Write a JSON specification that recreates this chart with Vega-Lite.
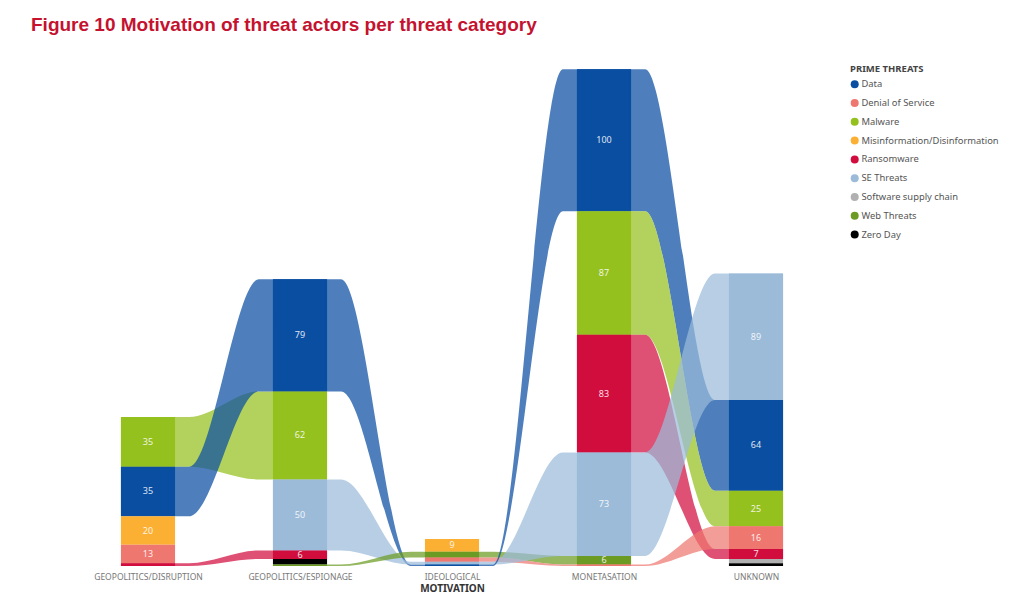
{
  "$schema": "https://vega.github.io/schema/vega-lite/v6.json",
  "width": 760,
  "height": 511,
  "autosize": "none",
  "padding": {"left": 72, "top": 55, "right": 192, "bottom": 34},
  "background": "white",
  "config": {"view": {"stroke": null}, "font": "Noto Sans"},
  "title": {
    "text": "Figure 10 Motivation of threat actors per threat category",
    "anchor": "start",
    "frame": "group",
    "dx": -41,
    "offset": 20,
    "font": "Liberation Sans",
    "fontSize": 19,
    "fontWeight": "bold",
    "color": "#C4122F"
  },
  "data": {
    "values": [
      {"m": "GEOPOLITICS/DISRUPTION", "t": "Malware", "v": 35},
      {"m": "GEOPOLITICS/DISRUPTION", "t": "Data", "v": 35},
      {"m": "GEOPOLITICS/DISRUPTION", "t": "Misinformation/Disinformation", "v": 20},
      {"m": "GEOPOLITICS/DISRUPTION", "t": "Denial of Service", "v": 13},
      {"m": "GEOPOLITICS/DISRUPTION", "t": "Ransomware", "v": 2},
      {"m": "GEOPOLITICS/ESPIONAGE", "t": "Data", "v": 79},
      {"m": "GEOPOLITICS/ESPIONAGE", "t": "Malware", "v": 62},
      {"m": "GEOPOLITICS/ESPIONAGE", "t": "SE Threats", "v": 50},
      {"m": "GEOPOLITICS/ESPIONAGE", "t": "Ransomware", "v": 6},
      {"m": "GEOPOLITICS/ESPIONAGE", "t": "Zero Day", "v": 4},
      {"m": "GEOPOLITICS/ESPIONAGE", "t": "Web Threats", "v": 1},
      {"m": "IDEOLOGICAL", "t": "Misinformation/Disinformation", "v": 9},
      {"m": "IDEOLOGICAL", "t": "Web Threats", "v": 4},
      {"m": "IDEOLOGICAL", "t": "Denial of Service", "v": 3},
      {"m": "IDEOLOGICAL", "t": "SE Threats", "v": 2},
      {"m": "IDEOLOGICAL", "t": "Data", "v": 1},
      {"m": "MONETASATION", "t": "Data", "v": 100},
      {"m": "MONETASATION", "t": "Malware", "v": 87},
      {"m": "MONETASATION", "t": "Ransomware", "v": 83},
      {"m": "MONETASATION", "t": "SE Threats", "v": 73},
      {"m": "MONETASATION", "t": "Web Threats", "v": 6},
      {"m": "MONETASATION", "t": "Denial of Service", "v": 1},
      {"m": "UNKNOWN", "t": "SE Threats", "v": 89},
      {"m": "UNKNOWN", "t": "Data", "v": 64},
      {"m": "UNKNOWN", "t": "Malware", "v": 25},
      {"m": "UNKNOWN", "t": "Denial of Service", "v": 16},
      {"m": "UNKNOWN", "t": "Ransomware", "v": 7},
      {"m": "UNKNOWN", "t": "Software supply chain", "v": 3},
      {"m": "UNKNOWN", "t": "Zero Day", "v": 2}
    ]
  },
  "layer": [
    {
      "transform": [
        {"window": [{"op": "dense_rank", "as": "idx"}], "sort": [{"field": "m", "order": "ascending"}]},
        {"stack": "v", "groupby": ["m"], "sort": [{"field": "v", "order": "ascending"}, {"field": "t", "order": "ascending"}], "as": ["y0", "y1"]},
        {"window": [{"op": "lead", "field": "idx", "as": "nidx"}, {"op": "lead", "field": "y0", "as": "ny0"}, {"op": "lead", "field": "y1", "as": "ny1"}], "groupby": ["t"], "sort": [{"field": "idx", "order": "ascending"}]},
        {"filter": "datum.nidx == datum.idx + 1"},
        {"calculate": "datum.idx - 0.178", "as": "pa"},
        {"calculate": "datum.idx + 0.178", "as": "pb"},
        {"calculate": "datum.idx + 0.27", "as": "pe"},
        {"calculate": "datum.nidx - 0.27", "as": "pf"},
        {"calculate": "datum.nidx - 0.178", "as": "pc"},
        {"calculate": "datum.nidx + 0.178", "as": "pd"},
        {"fold": ["pa", "pb", "pe", "pf", "pc", "pd"], "as": ["k", "px"]},
        {"calculate": "(datum.k == 'pa' || datum.k == 'pb' || datum.k == 'pe') ? datum.y0 : datum.ny0", "as": "lo"},
        {"calculate": "(datum.k == 'pa' || datum.k == 'pb' || datum.k == 'pe') ? datum.y1 : datum.ny1", "as": "hi"},
        {"calculate": "datum.t + '|' + datum.idx", "as": "seg"}
      ],
      "mark": {"type": "area", "interpolate": "monotone", "opacity": 0.72, "orient": "vertical"},
      "encoding": {
        "x": {"field": "px", "type": "quantitative", "scale": {"domain": [0.5, 5.5], "nice": false, "zero": false},
          "axis": {"values": [1, 2, 3, 4, 5], "labelExpr": "['GEOPOLITICS/DISRUPTION','GEOPOLITICS/ESPIONAGE','IDEOLOGICAL','MONETASATION','UNKNOWN'][datum.value-1]", "title": "MOTIVATION", "domain": false, "ticks": false, "grid": false, "labelFontSize": 8.5, "labelColor": "#777777", "labelPadding": 6, "labelFlush": false, "labelOverlap": false, "titleFontSize": 10, "titleFontWeight": "bold", "titleColor": "#333333", "titlePadding": 3}},
        "y": {"field": "lo", "type": "quantitative", "stack": null, "scale": {"domain": [0, 360], "nice": false}, "axis": null},
        "y2": {"field": "hi"},
        "color": {"field": "t", "type": "nominal",
          "scale": {"domain": ["Data", "Denial of Service", "Malware", "Misinformation/Disinformation", "Ransomware", "SE Threats", "Software supply chain", "Web Threats", "Zero Day"],
                    "range": ["#0A4EA2", "#EE7770", "#95C11F", "#FBB034", "#D10D3E", "#9BBBD9", "#B0B0B0", "#6B9B22", "#000000"]},
          "legend": {"title": "PRIME THREATS", "orient": "none", "legendX": 778, "legendY": 9, "symbolType": "circle", "symbolSize": 64, "symbolOpacity": 1, "symbolStrokeWidth": 0, "labelFontSize": 9.4, "labelColor": "#555555", "titleFontSize": 9.5, "titleColor": "#444444", "titleFontWeight": "bold", "rowPadding": 7.8, "labelOffset": 2, "titlePadding": 6}},
        "detail": {"field": "seg"}
      }
    },
    {
      "transform": [
        {"window": [{"op": "dense_rank", "as": "idx"}], "sort": [{"field": "m", "order": "ascending"}]},
        {"stack": "v", "groupby": ["m"], "sort": [{"field": "v", "order": "ascending"}, {"field": "t", "order": "ascending"}], "as": ["y0", "y1"]},
        {"calculate": "datum.idx - 0.178", "as": "xl"},
        {"calculate": "datum.idx + 0.178", "as": "xr"}
      ],
      "mark": {"type": "rect"},
      "encoding": {
        "x": {"field": "xl", "type": "quantitative", "scale": {"domain": [0.5, 5.5], "nice": false, "zero": false},
          "axis": {"values": [1, 2, 3, 4, 5], "labelExpr": "['GEOPOLITICS/DISRUPTION','GEOPOLITICS/ESPIONAGE','IDEOLOGICAL','MONETASATION','UNKNOWN'][datum.value-1]", "title": "MOTIVATION", "domain": false, "ticks": false, "grid": false, "labelFontSize": 8.5, "labelColor": "#777777", "labelPadding": 6, "labelFlush": false, "labelOverlap": false, "titleFontSize": 10, "titleFontWeight": "bold", "titleColor": "#333333", "titlePadding": 3}},
        "x2": {"field": "xr"},
        "y": {"field": "y0", "type": "quantitative", "stack": null, "scale": {"domain": [0, 360], "nice": false}, "axis": null},
        "y2": {"field": "y1"},
        "color": {"field": "t", "type": "nominal",
          "scale": {"domain": ["Data", "Denial of Service", "Malware", "Misinformation/Disinformation", "Ransomware", "SE Threats", "Software supply chain", "Web Threats", "Zero Day"],
                    "range": ["#0A4EA2", "#EE7770", "#95C11F", "#FBB034", "#D10D3E", "#9BBBD9", "#B0B0B0", "#6B9B22", "#000000"]},
          "legend": {"title": "PRIME THREATS", "orient": "none", "legendX": 778, "legendY": 9, "symbolType": "circle", "symbolSize": 64, "symbolOpacity": 1, "symbolStrokeWidth": 0, "labelFontSize": 9.4, "labelColor": "#555555", "titleFontSize": 9.5, "titleColor": "#444444", "titleFontWeight": "bold", "rowPadding": 7.8, "labelOffset": 2, "titlePadding": 6}}
      }
    },
    {
      "transform": [
        {"window": [{"op": "dense_rank", "as": "idx"}], "sort": [{"field": "m", "order": "ascending"}]},
        {"stack": "v", "groupby": ["m"], "sort": [{"field": "v", "order": "ascending"}, {"field": "t", "order": "ascending"}], "as": ["y0", "y1"]},
        {"filter": "datum.v >= 5"},
        {"calculate": "(datum.y0 + datum.y1) / 2", "as": "ym"}
      ],
      "mark": {"type": "text", "fill": "#FFFFFF", "fontSize": 9, "opacity": 0.85, "baseline": "middle", "align": "center"},
      "encoding": {
        "x": {"field": "idx", "type": "quantitative"},
        "y": {"field": "ym", "type": "quantitative"},
        "text": {"field": "v", "type": "quantitative"}
      }
    }
  ]
}
